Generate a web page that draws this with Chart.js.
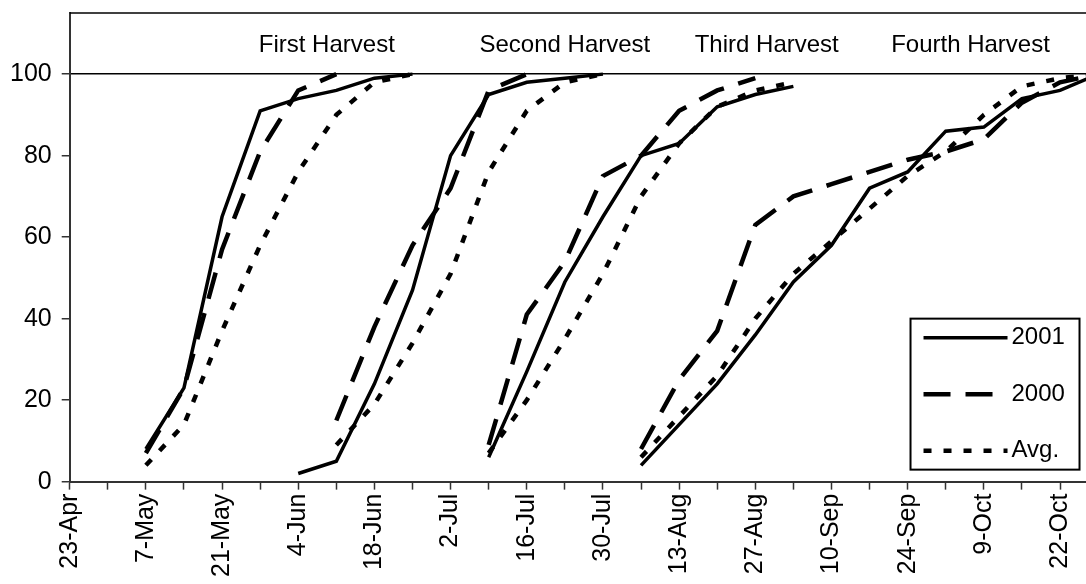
<!DOCTYPE html>
<html>
<head>
<meta charset="utf-8">
<script src="https://cdn.jsdelivr.net/npm/chart.js@4.4.1/dist/chart.umd.min.js"></script>
<style>
    html, body { margin: 0; padding: 0; background: #fff; overflow: hidden; }
    /* a little wider than the window: the plot runs off the right edge as in the original */
    #wrap { width: 1094px; height: 584px; position: relative; }
</style>
</head>
<body>
<div id="wrap"><canvas id="harvestChart"></canvas></div>
<script>
// x is counted in weeks from 23-Apr; a label is printed on every second week
const weekLabels = ["23-Apr", "7-May", "21-May", "4-Jun", "18-Jun", "2-Jul", "16-Jul",
    "30-Jul", "13-Aug", "27-Aug", "10-Sep", "24-Sep", "9-Oct", "22-Oct"];
const yTicks = [0, 20, 40, 60, 80, 100];

const harvestNames = ["First Harvest", "Second Harvest", "Third Harvest", "Fourth Harvest"];
const harvestStart = [2, 6, 11, 15]; // week of the first reading of each harvest

// cumulative % per harvest, one value per week from harvestStart
const cum2001 = [
    [8, 23, 65, 91, 94, 96, 99, 100],
    [2, 5, 24, 47, 80, 95, 98, 99, 100],
    [6, 27, 49, 65, 80, 83, 92, 95, 97],
    [4, 14, 24, 36, 49, 58, 72, 76, 86, 87, 94, 96, 100],
];
const cum2000 = [
    [7, 23, 57, 81, 96, 100],
    [null, 15, 38, 58, 72, 96, 100],
    [9, 41, 54, 75, 80, 91, 96, 99],
    [8, 25, 37, 63, 70, 73, 76, 79, 81, 84, 93, 98, 100],
];
const cumAvg = [
    [4, 14, 37, 58, 76, 90, 98, 100],
    [null, 9, 19, 34, 51, 76, 91, 98, 100],
    [7, 20, 35, 51, 70, 83, 92, 96, 98],
    [6, 16, 26, 40, 51, 59, 67, 75, 81, 90, 97, 99, 100],
];

function toPoints(harvests) {
    const pts = [];
    harvests.forEach((vals, h) => {
        vals.forEach((v, i) => pts.push({ x: harvestStart[h] + i, y: v }));
        // null breaks the line between harvests
        pts.push({ x: harvestStart[h] + vals.length - 1, y: null });
    });
    return pts;
}

const FONT = '"Liberation Sans", Arial, sans-serif';
Chart.defaults.font.family = FONT;
Chart.defaults.font.size = 24;
Chart.defaults.color = "#000";

// frame top, harvest titles and the boxed legend
const decor = {
    id: "decor",
    afterDraw(chart) {
        const { ctx, chartArea: a, scales: { x, y } } = chart;
        ctx.save();
        ctx.strokeStyle = "#000";
        ctx.lineWidth = 1.5;
        ctx.beginPath();
        ctx.moveTo(a.left, a.top);
        ctx.lineTo(a.right, a.top);
        ctx.stroke();

        const labelWeek = [6.75, 13, 18.3, 23.65];
        ctx.font = "24px " + FONT;
        ctx.fillStyle = "#000";
        ctx.textAlign = "center";
        ctx.textBaseline = "middle";
        harvestNames.forEach((n, i) => {
            ctx.fillText(n, x.getPixelForValue(labelWeek[i]), y.getPixelForValue(107));
        });

        // legend box sits just inside the visible part of the plot
        const visRight = x.getPixelForValue(26.67);
        const w = 169, h = 151;
        const bx = visRight - 6 - w, by = a.bottom - 12 - h;
        ctx.fillStyle = "#fff";
        ctx.fillRect(bx, by, w, h);
        ctx.lineWidth = 2;
        ctx.strokeRect(bx, by, w, h);
        chart.data.datasets.forEach((ds, i) => {
            const ly = by + 19 + i * 56.5;
            ctx.setLineDash(ds.borderDash || []);
            ctx.lineWidth = ds.borderWidth;
            ctx.strokeStyle = ds.borderColor;
            ctx.beginPath();
            ctx.moveTo(bx + 13, ly);
            ctx.lineTo(bx + 97, ly);
            ctx.stroke();
            ctx.setLineDash([]);
            ctx.fillStyle = "#000";
            ctx.textAlign = "left";
            ctx.fillText(ds.label, bx + 101, ly);
        });
        ctx.restore();
    },
};

new Chart(document.getElementById("harvestChart"), {
    type: "line",
    data: {
        datasets: [
            {
                label: "2001",
                data: toPoints(cum2001),
                borderColor: "#000",
                borderWidth: 3.5,
                pointRadius: 0,
            },
            {
                label: "2000",
                data: toPoints(cum2000),
                borderColor: "#000",
                borderWidth: 4.5,
                borderDash: [27, 15],
                pointRadius: 0,
            },
            {
                label: "Avg.",
                data: toPoints(cumAvg),
                borderColor: "#000",
                borderWidth: 4.5,
                borderDash: [8, 12],
                pointRadius: 0,
            },
        ],
    },
    options: {
        responsive: true,
        maintainAspectRatio: false,
        animation: false,
        spanGaps: false,
        layout: {
            padding: { left: 0, top: 13, right: 0, bottom: 3 },
        },
        plugins: {
            legend: { display: false },
            tooltip: { enabled: false },
        },
        scales: {
            x: {
                type: "linear",
                min: 0,
                max: 26.7,
                afterBuildTicks: (scale) => {
                    scale.ticks = weekLabels.flatMap((_, i) =>
                        i < weekLabels.length - 1 ? [{ value: i * 2 }, { value: i * 2 + 1 }] : [{ value: i * 2 }]
                    );
                },
                ticks: {
                    autoSkip: false,
                    minRotation: 90,
                    maxRotation: 90,
                    padding: 4,
                    font: { size: 25 },
                    callback: (v) => (v % 2 === 0 ? weekLabels[v / 2] : ""),
                },
                grid: {
                    drawOnChartArea: false,
                    tickLength: 8,
                    tickColor: "#333",
                    tickWidth: 1.5,
                },
                border: { color: "#333", width: 2 },
            },
            y: {
                min: 0,
                max: 115,
                afterBuildTicks: (scale) => {
                    scale.ticks = yTicks.map((v) => ({ value: v }));
                },
                // the top tick is well below the frame, no need for label room there
                afterFit: (scale) => {
                    scale.paddingTop = 0;
                    scale.paddingBottom = 0;
                },
                ticks: {
                    padding: 10,
                    font: { size: 25, lineHeight: 1 },
                },
                grid: {
                    color: (c) => (c.tick && c.tick.value === 100 ? "#000" : "rgba(0,0,0,0)"),
                    lineWidth: 1.5,
                    tickLength: 8,
                    tickColor: "#333",
                    tickWidth: 1.5,
                },
                border: { color: "#333", width: 2 },
            },
        },
    },
    plugins: [decor],
});
</script>
</body>
</html>
